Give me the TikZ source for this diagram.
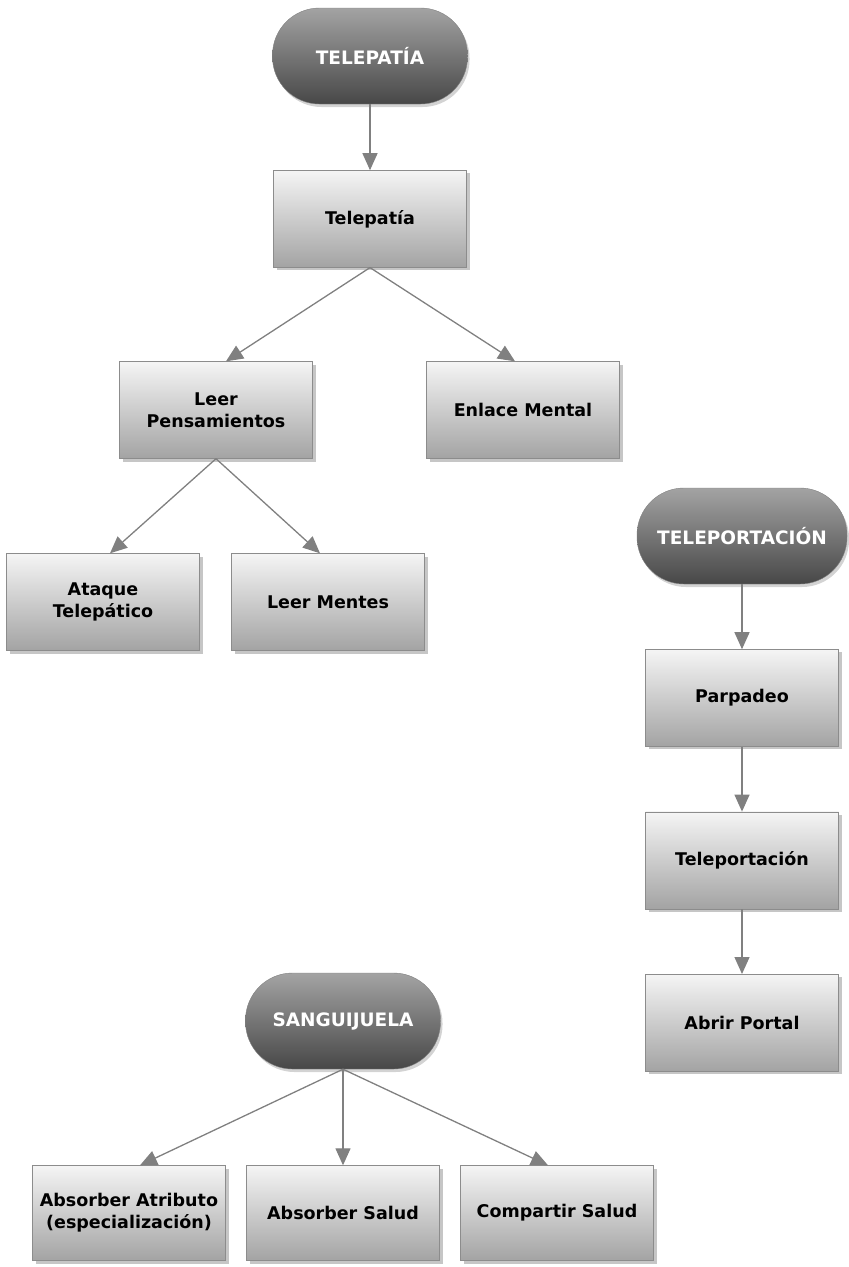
\documentclass[tikz,border=0pt]{standalone}
\usepackage{fontspec}
\setmainfont{DejaVu Sans}
\usetikzlibrary{shapes, arrows.meta, positioning, shadows}
\tikzset{
    block/.style={rectangle, draw=black!45, top color=black!4, bottom color=black!36, align=center, minimum width=193pt, minimum height=97pt, font=\bfseries\fontsize{17.5}{22}\selectfont, drop shadow={shadow xshift=3pt, shadow yshift=-3pt, opacity=0.45}},
    pill/.style={rectangle, rounded corners=47pt, draw=black!50, top color=black!36, bottom color=black!72, text=white, align=center, minimum width=195pt, minimum height=96pt, font=\bfseries\fontsize{18.5}{22}\selectfont, drop shadow={shadow xshift=2pt, shadow yshift=-3pt, opacity=0.35}},
    arrow/.style={draw=black!50, line width=1.3pt, -{Triangle[width=15pt, length=17pt]}}
}

\begin{document}
\begin{tikzpicture}[x=1pt, y=-1pt, node distance=65pt]
            \useasboundingbox (0,0) rectangle (849,1267);

            % telepatia
            \node[pill] (telroot) at (370,56) {TELEPATÍA};
            \node[block] (tel) [below=66pt of telroot] {Telepatía};
            \node[block] (leer) at (216,410) {Leer\\Pensamientos};
            \node[block] (enlace) at (523,410) {Enlace Mental};
            \node[block] (ataque) at (103,602) {Ataque\\Telepático};
            \node[block] (mentes) at (328,602) {Leer Mentes};

            \draw[arrow] (telroot) -- (tel);
            \draw[arrow] (tel.south) -- ([xshift=10pt]leer.north);
            \draw[arrow] (tel.south) -- ([xshift=-8pt]enlace.north);
            \draw[arrow] (leer.south) -- ([xshift=7pt]ataque.north);
            \draw[arrow] (leer.south) -- ([xshift=-8pt]mentes.north);

            % teleportacion
            \node[pill, minimum width=210pt] (tpproot) at (742,536) {TELEPORTACIÓN};
            \node[block] (parpadeo) [below=65pt of tpproot] {Parpadeo};
            \node[block] (tpp) [below=of parpadeo] {Teleportación};
            \node[block] (portal) [below=of tpp] {Abrir Portal};

            \draw[arrow] (tpproot) -- (parpadeo);
            \draw[arrow] (parpadeo) -- (tpp);
            \draw[arrow] (tpp) -- (portal);

            % sanguijuela
            \node[pill] (sangroot) at (343,1021) {SANGUIJUELA};
            \node[block, minimum height=95pt] (atributo) at (129,1213) {Absorber Atributo\\(especialización)};
            \node[block, minimum height=95pt] (salud) at (343,1213) {Absorber Salud};
            \node[block, minimum height=95pt] (compartir) at (557,1213) {Compartir Salud};

            \draw[arrow] (sangroot.south) -- ([xshift=11pt]atributo.north);
            \draw[arrow] (sangroot.south) -- (salud.north);
            \draw[arrow] (sangroot.south) -- ([xshift=-9pt]compartir.north);
        \end{tikzpicture}
\end{document}
